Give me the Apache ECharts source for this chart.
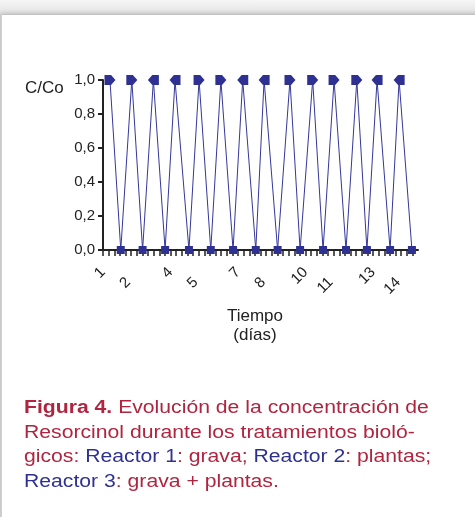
<!DOCTYPE html>
<html>
<head>
<meta charset="utf-8">
<script src="https://cdn.jsdelivr.net/npm/echarts@6/dist/echarts.min.js"></script>
<style>
    html, body { margin: 0; padding: 0; }
    body { width: 475px; height: 517px; position: relative; overflow: hidden;
           background: linear-gradient(#f6f6f6, #e4e4e4 13px, #d8d8d8 15px); }
    .panel { position: absolute; left: 1px; top: 15px; right: -20px; bottom: -20px;
             background: #fff; border-left: 1px solid #cfcfcf;
             box-shadow: 0 -2px 4px rgba(0,0,0,0.15); }
    #chart { position: absolute; left: 0; top: 0; width: 475px; height: 517px; }
</style>
</head>
<body>
<div class="panel"></div>
<div id="chart"></div>
<script>
    // tiempo (días) de cada punto, alternando entrada / salida
    const tiempo = [1.31, 1.79, 2.28, 2.76, 3.24, 3.76, 4.20, 4.82, 5.27, 5.79, 6.24, 6.78, 7.21, 7.79,
                    8.16, 8.76, 9.31, 9.76, 10.32, 10.78, 11.27, 11.80, 12.28, 12.73, 13.18, 13.76, 14.16, 14.73];
    const cCo = [1, 0, 1, 0, 1, 0, 1, 0, 1, 0, 1, 0, 1, 0,
                 1, 0, 1, 0, 1, 0, 1, 0, 1, 0, 1, 0, 1, 0];
    // hacia donde apunta el marcador en cada maximo (r = derecha, l = izquierda)
    const punta = ['r', 'r', 'l', 'l', 'r', 'r', 'l', 'l', 'r', 'r', 'r', 'r', 'l', 'l'];
    const diasEtiqueta = [1, 2, 4, 5, 7, 8, 10, 11, 13, 14];
    const diasAbajo = [2, 5, 8, 11, 14];

    const azul = '#2e3192';
    const rojo = '#b0243f';
    const fuente = 'Liberation Sans';
    // cuadrado + triangulo superpuestos (varios reactores en el mismo punto)
    const flecha = 'path://M0,0 L6,0 L10,5 L6,10 L0,10 Z';

    let chart = echarts.init(document.getElementById('chart'), null, { renderer: 'canvas' });

    let k = 0;
    let linea = tiempo.map((t, i) => {
        if (cCo[i] !== 1) return [t, cCo[i]];
        let p = punta[k++];
        return {
            value: [t, cCo[i]],
            symbol: flecha,
            symbolSize: [11, 10],
            symbolRotate: p === 'r' ? 0 : 180
        };
    });

    let option = {
        animation: false,
        grid: { left: 103, top: 80, width: 315, height: 170 },
        xAxis: {
            type: 'value',
            min: 1,
            max: 15,
            interval: 0.25,
            axisLine: { lineStyle: { color: '#222', width: 2 } },
            axisTick: { show: true, length: 6, lineStyle: { color: '#222', width: 1.5 } },
            splitLine: { show: false },
            axisLabel: {
                rotate: 45,
                margin: 20,
                color: '#222',
                fontFamily: fuente,
                fontSize: 15,
                showMaxLabel: false,
                formatter: function (v) {
                    if (diasEtiqueta.indexOf(v) < 0) return '';
                    if (diasAbajo.indexOf(v) >= 0) return '{lo|' + v + '}';
                    return '{hi|' + v + '}';
                },
                rich: {
                    hi: { fontSize: 15, fontFamily: fuente, color: '#222' },
                    lo: { fontSize: 15, fontFamily: fuente, color: '#222', padding: [18, 5, 0, 0] }
                }
            }
        },
        yAxis: {
            type: 'value',
            min: 0,
            max: 1,
            interval: 0.2,
            axisLine: { show: true, lineStyle: { color: '#222', width: 2 } },
            axisTick: { show: true, length: 5, lineStyle: { color: '#222', width: 2 } },
            splitLine: { show: false },
            axisLabel: {
                margin: 8,
                color: '#222',
                fontFamily: fuente,
                fontSize: 15,
                formatter: function (v) { return v.toFixed(1).replace('.', ','); }
            }
        },
        graphic: [
            {
                type: 'text', x: 25, y: 80,
                style: { text: 'C/Co', fill: '#222', fontSize: 17, fontFamily: fuente }
            },
            {
                type: 'text', x: 255, y: 307,
                style: { text: 'Tiempo\n(días)', fill: '#222', fontSize: 17, fontFamily: fuente,
                         align: 'center', lineHeight: 19 }
            },
            {
                type: 'text', x: 24, y: 396, scaleX: 1.21,
                style: {
                    fill: rojo,
                    fontSize: 17.5,
                    fontFamily: fuente,
                    lineHeight: 24.5,
                    text: '{b|Figura 4.} Evolución de la concentración de\n' +
                          'Resorcinol durante los tratamientos bioló-\n' +
                          'gicos: {u|Reactor 1}: grava; {u|Reactor 2}: plantas;\n' +
                          '{u|Reactor 3}: grava + plantas.',
                    rich: {
                        b: { fill: rojo, fontSize: 17.5, fontWeight: 'bold', fontFamily: fuente, lineHeight: 24.5 },
                        u: { fill: azul, fontSize: 17.5, fontFamily: fuente, lineHeight: 24.5 }
                    }
                }
            }
        ],
        series: [
            {
                name: 'Reactor',
                type: 'line',
                data: linea,
                symbol: 'rect',
                symbolSize: 8,
                itemStyle: { color: azul },
                lineStyle: { color: '#34379a', width: 1 },
                z: 2
            }
        ]
    };
    chart.setOption(option);
</script>
</body>
</html>
